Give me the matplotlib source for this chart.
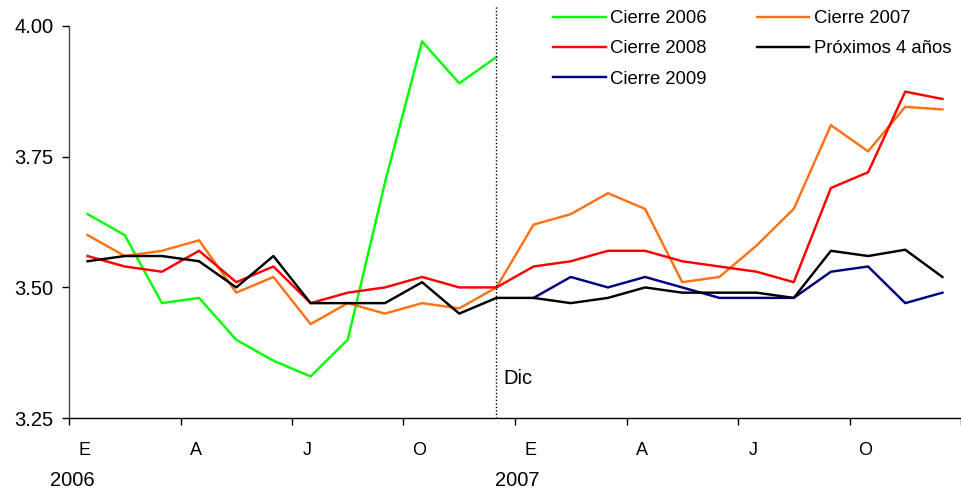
import numpy as np
import matplotlib
matplotlib.use("Agg")
import matplotlib.pyplot as plt
import matplotlib.transforms as mtransforms

plt.rcParams['font.family'] = ['Liberation Sans', 'DejaVu Sans']

# months Jan 2006 .. Dec 2007 (category index 0..23)
months = np.arange(24)
month_labels = ['E', 'A', 'J', 'O', 'E', 'A', 'J', 'O']
year_labels = ['2006', '2007']

cierre_2006 = [3.64, 3.60, 3.47, 3.48, 3.40, 3.36, 3.33, 3.40, 3.70, 3.97, 3.89, 3.94]
cierre_2007 = [3.60, 3.56, 3.57, 3.59, 3.49, 3.52, 3.43, 3.47, 3.45, 3.47, 3.46, 3.50,
               3.62, 3.64, 3.68, 3.65, 3.51, 3.52, 3.58, 3.65, 3.81, 3.76, 3.845, 3.84]
cierre_2008 = [3.56, 3.54, 3.53, 3.57, 3.51, 3.54, 3.47, 3.49, 3.50, 3.52, 3.50, 3.50,
               3.54, 3.55, 3.57, 3.57, 3.55, 3.54, 3.53, 3.51, 3.69, 3.72, 3.874, 3.86]
cierre_2009 = [3.48, 3.52, 3.50, 3.52, 3.50, 3.48, 3.48, 3.48, 3.53, 3.54, 3.47, 3.49]
proximos_4 = [3.55, 3.56, 3.56, 3.55, 3.50, 3.56, 3.47, 3.47, 3.47, 3.51, 3.45, 3.48,
              3.48, 3.47, 3.48, 3.50, 3.49, 3.49, 3.49, 3.48, 3.57, 3.56, 3.572, 3.52]

W, H = 961, 493
fig = plt.figure(figsize=(W / 100, H / 100), dpi=100)
left, bottom, top = 69, 418.3, 25.7
ax = fig.add_axes([left / W, 1 - bottom / H, (W - left) / W, (bottom - top) / H])

px_per_month = 37.55
ax.set_xlim(-0.5, -0.5 + (W - left) / px_per_month)
ax.set_ylim(3.25, 4.00)

lw = 1.75
l06, = ax.plot(months[:12], cierre_2006, color='#00ff00', lw=lw, label='Cierre 2006')
l07, = ax.plot(months, cierre_2007, color='#ff7214', lw=lw, label='Cierre 2007')
l08, = ax.plot(months, cierre_2008, color='#ff0000', lw=lw, label='Cierre 2008')
l09, = ax.plot(months[12:], cierre_2009, color='#000080', lw=lw, label='Cierre 2009')
lp4, = ax.plot(months, proximos_4, color='black', lw=lw, label='Próximos 4 años')

# vertical dotted marker at Dec 2006
ax.axvline(11, ymin=0, ymax=1.053, color='black', lw=1.0, ls=(0, (1, 1.5)), clip_on=False)
ax.text(11.18, 3.326, 'Dic', fontsize=14.5, ha='left', va='center')

for s in ['top', 'right']:
    ax.spines[s].set_visible(False)
ax.spines['left'].set_linewidth(1.0)
ax.spines['bottom'].set_linewidth(1.0)
ax.spines['left'].set_color('#444444')

ax.set_yticks([3.25, 3.50, 3.75, 4.00])
ax.set_yticklabels(['3.25', '3.50', '3.75', '4.00'])
ax.tick_params(axis='y', direction='out', length=5, width=1, labelsize=14.5, pad=6)

ax.set_xticks(np.arange(-0.5, 24, 3))
ax.set_xticklabels([])
ax.tick_params(axis='x', which='major', direction='out', length=5, width=1)
ax.set_xticks(np.arange(0, 24, 3) - 0.08, minor=True)
ax.set_xticklabels(month_labels, minor=True)
ax.tick_params(axis='x', which='minor', length=0, labelsize=13, pad=17)

trans = mtransforms.blended_transform_factory(ax.transData, fig.transFigure)
ax.text(-0.4, 1 - 481 / H, year_labels[0], transform=trans, fontsize=14.5, ha='center', va='center')
ax.text(11.55, 1 - 481 / H, year_labels[1], transform=trans, fontsize=14.5, ha='center', va='center')

ax.legend(handles=[l06, l08, l09, l07, lp4], ncol=2, frameon=False,
          loc='upper left', bbox_to_anchor=(553 / W, 1 - 10 / H),
          bbox_transform=fig.transFigure, fontsize=13.3, handlelength=2.85,
          handletextpad=0.25, columnspacing=2.7, labelspacing=0.72, borderpad=0,
          borderaxespad=0)

fig.savefig('out.png', dpi=100)
